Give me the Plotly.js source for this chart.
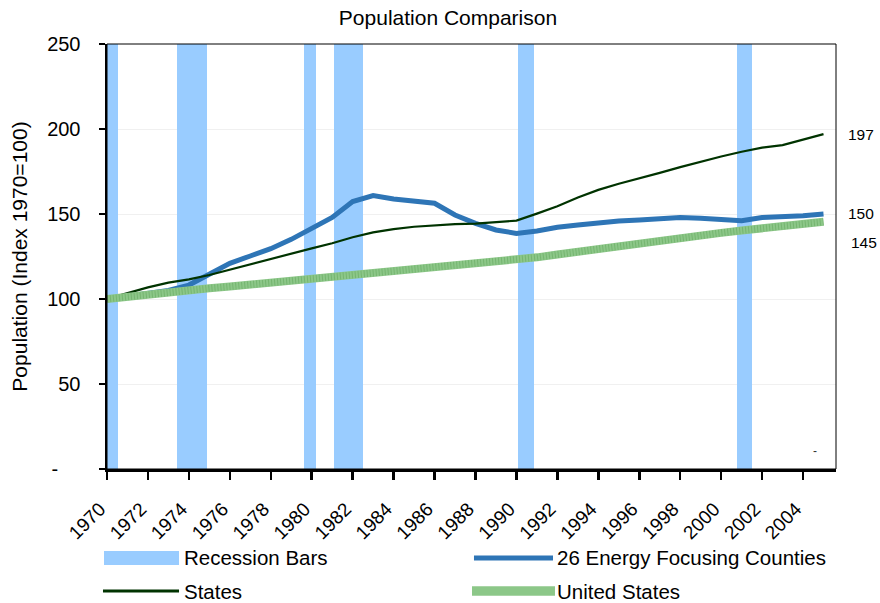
<!DOCTYPE html>
<html>
<head>
<meta charset="utf-8">
<script src="https://cdn.plot.ly/plotly-3.0.1.min.js"></script>
<style>
  html, body { margin: 0; padding: 0; background: #ffffff; }
  #chart { width: 880px; height: 603px; }
</style>
</head>
<body>
<div id="chart"></div>
<script>
// ---------- data ----------
const years = [1970, 1971, 1972, 1973, 1974, 1975, 1976, 1977, 1978, 1979,
               1980, 1981, 1982, 1983, 1984, 1985, 1986, 1987, 1988, 1989,
               1990, 1991, 1992, 1993, 1994, 1995, 1996, 1997, 1998, 1999,
               2000, 2001, 2002, 2003, 2004, 2005];

const energyCounties = [100, 101.5, 102.8, 105.0, 108.2, 114.8, 121.0, 125.3, 129.6, 135.1,
                        141.2, 148.0, 157.3, 160.8, 158.8, 157.8, 156.3, 149.4, 144.5, 140.6,
                        138.6, 140.0, 142.2, 143.5, 144.9, 145.9, 146.5, 146.9, 147.9, 147.5,
                        147.0, 146.1, 147.9, 148.2, 149.0, 150.0];

const states = [100, 103.3, 106.8, 109.6, 111.5, 114.1, 117.3, 120.5, 123.5, 126.6,
                129.8, 132.8, 136.3, 139.2, 141.1, 142.5, 143.5, 144.1, 144.3, 145.0,
                146.1, 150.2, 154.5, 159.7, 164.2, 167.8, 170.8, 174.2, 177.6, 180.8,
                183.8, 186.6, 189.0, 190.5, 193.6, 197.0];

const unitedStates = [100, 101.4, 102.8, 104.3, 105.3, 106.3, 107.3, 108.4, 109.6, 110.8,
                      111.8, 112.9, 114.0, 115.1, 116.0, 117.1, 118.2, 119.2, 120.3, 121.5,
                      122.8, 124.5, 126.2, 127.9, 129.5, 131.1, 132.6, 134.2, 135.8, 137.3,
                      138.9, 140.3, 141.5, 142.8, 144.1, 145.4];

const recessionStart = [1970.0, 1973.42, 1979.62, 1981.09, 1990.08, 2000.78];
const recessionEnd   = [1970.54, 1974.88, 1980.20, 1982.50, 1990.86, 2001.50];
const recessionHeight = 250;

const yTickVals = [0, 50, 100, 150, 200, 250];
const yTickText = ['-\u00a0\u00a0\u00a0\u00a0', '50', '100', '150', '200', '250'];
const xTickVals = [1970, 1972, 1974, 1976, 1978, 1980, 1982, 1984, 1986, 1988,
                   1990, 1992, 1994, 1996, 1998, 2000, 2002, 2004];
const xTickText = xTickVals.map(String);

const seriesNames = ['Recession Bars', '26 Energy Focusing Counties', 'States', 'United States'];

// ---------- styles ----------
const FONT = 'Liberation Sans, Arial, sans-serif';
const C_BAR = '#99ccff';
const C_BLUE = '#2e75b6';
const C_DARK = '#003300';
const C_US = '#8cc788';

// ---------- traces ----------
const barX = recessionStart.map((s, i) => (s + recessionEnd[i]) / 2);
const barW = recessionStart.map((s, i) => recessionEnd[i] - s);
const barY = recessionStart.map(() => recessionHeight);

const traces = [
  { type: 'bar', x: barX, y: barY, width: barW, name: seriesNames[0],
    marker: { color: C_BAR, line: { width: 0 } }, hoverinfo: 'skip' },
  { type: 'scatter', mode: 'lines', x: years, y: energyCounties, name: seriesNames[1],
    line: { color: C_BLUE, width: 5 } },
  { type: 'scatter', mode: 'lines', x: years, y: states, name: seriesNames[2],
    line: { color: C_DARK, width: 2.2 } },
  { type: 'scatter', mode: 'lines', x: years, y: unitedStates, name: seriesNames[3],
    line: { color: C_US, width: 8 } },
  { type: 'scatter', mode: 'lines', x: years, y: unitedStates, showlegend: false, hoverinfo: 'skip',
    line: { color: 'rgba(90,160,85,0.45)', width: 7, dash: '1px,2px' } }
];

// ---------- legend (drawn manually, paper coords) ----------
const rowY1 = -0.2094, rowY2 = -0.2871;
const legShapes = [
  { type: 'rect', xref: 'paper', yref: 'paper', x0: -0.0041, x1: 0.0988, y0: rowY1 - 0.0165, y1: rowY1 + 0.0165,
    fillcolor: C_BAR, line: { width: 0 } },
  { type: 'line', xref: 'paper', yref: 'paper', x0: -0.0055, x1: 0.0988, y0: rowY2, y1: rowY2,
    line: { color: C_DARK, width: 3 } },
  { type: 'line', xref: 'paper', yref: 'paper', x0: 0.5034, x1: 0.6118, y0: rowY1, y1: rowY1,
    line: { color: C_BLUE, width: 5 } },
  { type: 'rect', xref: 'paper', yref: 'paper', x0: 0.5007, x1: 0.6145, y0: rowY2 - 0.011, y1: rowY2 + 0.011,
    fillcolor: C_US, line: { width: 0 } },
  // plot border (top / right thin)
  { type: 'rect', xref: 'paper', yref: 'paper', x0: 0, x1: 1, y0: 0, y1: 1,
    line: { color: '#000000', width: 1 }, layer: 'above' }
];

const legAnn = [
  { text: seriesNames[0], x: 0.1043, y: rowY1 },
  { text: seriesNames[2], x: 0.1043, y: rowY2 },
  { text: seriesNames[1], x: 0.6159, y: rowY1 },
  { text: seriesNames[3], x: 0.6159, y: rowY2 }
].map(a => Object.assign({ xref: 'paper', yref: 'paper', xanchor: 'left', yanchor: 'middle',
  showarrow: false, font: { family: FONT, size: 20.5, color: '#000' }, borderpad: 0 }, a));

const last = years.length - 1;
const endAnn = [
  { text: String(Math.round(states[last])), y: states[last], yshift: 0 },
  { text: String(Math.round(energyCounties[last])), y: energyCounties[last], yshift: 1 },
  { text: String(Math.round(unitedStates[last])), y: unitedStates[last], yshift: -21, xshift: 3 }
].map(a => Object.assign({ xref: 'paper', yref: 'y', x: 1.0137, xanchor: 'left', yanchor: 'middle',
  showarrow: false, font: { family: FONT, size: 15.5, color: '#000' } }, a));

const dashAnn = { text: '-', xref: 'x', yref: 'y', x: 2004.6, y: 10.5, showarrow: false,
  font: { family: FONT, size: 12, color: '#333' } };

const layout = {
  width: 880, height: 603,
  margin: { l: 107, r: 44, t: 44, b: 134, pad: 0 },
  paper_bgcolor: '#ffffff', plot_bgcolor: '#ffffff',
  font: { family: FONT, color: '#000' },
  showlegend: false,
  bargap: 0,
  title: { text: 'Population Comparison', font: { family: FONT, size: 21, color: '#000' },
           x: 448 / 880, xanchor: 'center', y: 1 - 18 / 603, yanchor: 'middle' },
  xaxis: {
    range: [1970, 2005.61], tickvals: xTickVals, ticktext: xTickText, tickangle: -45,
    ticks: 'outside', ticklen: 8, tickwidth: 2.5, tickcolor: '#000', ticklabelstandoff: 11,
    ticklabelshift: -7,
    showline: true, linecolor: '#000', linewidth: 2.5, showgrid: false, zeroline: false,
    tickfont: { family: FONT, size: 19, color: '#000' }
  },
  yaxis: {
    range: [0, 250], tickvals: yTickVals, ticktext: yTickText,
    ticks: 'outside', ticklen: 6, tickwidth: 2, tickcolor: '#000', ticklabelstandoff: 14,
    showline: true, linecolor: '#000', linewidth: 2.5, showgrid: true, gridcolor: '#f0f0f0', gridwidth: 1,
    zeroline: false, tickfont: { family: FONT, size: 20, color: '#000' },
    title: { text: 'Population (Index 1970=100)', font: { family: FONT, size: 21, color: '#000' }, standoff: 14 }
  },
  shapes: legShapes,
  annotations: legAnn.concat(endAnn, [dashAnn])
};

Plotly.newPlot('chart', traces, layout, { displayModeBar: false, staticPlot: true });
</script>
</body>
</html>
